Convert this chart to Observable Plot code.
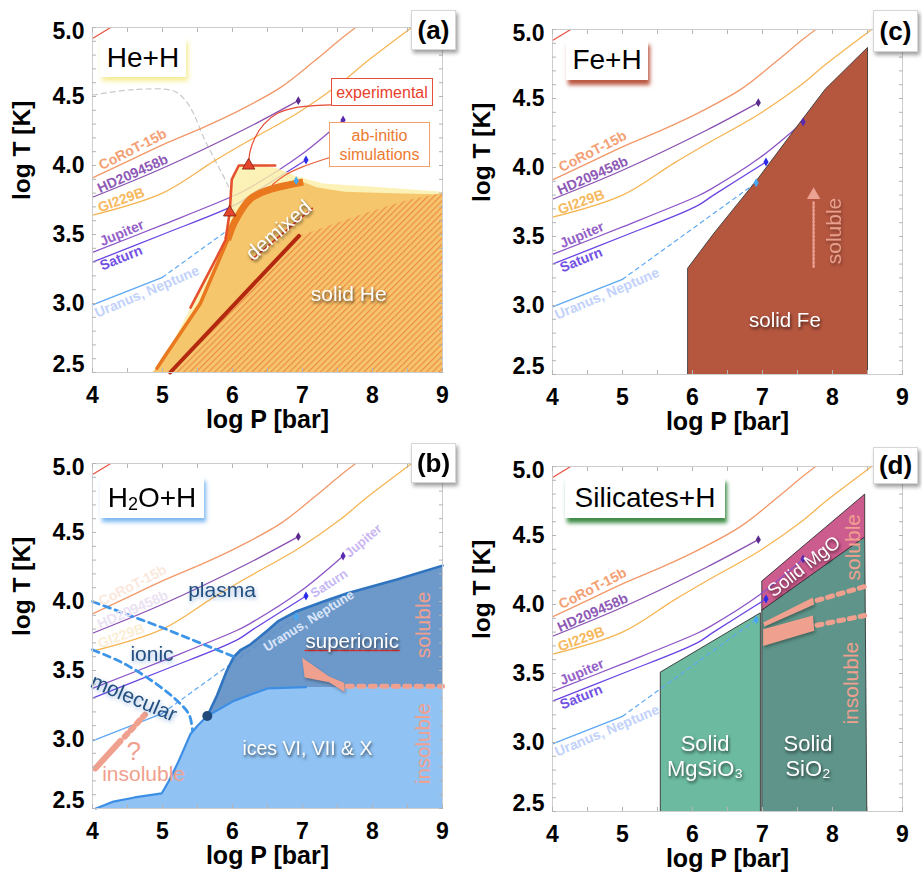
<!DOCTYPE html>
<html>
<head>
<meta charset="utf-8">
<script src="https://cdn.jsdelivr.net/npm/d3@7"></script>
<script src="https://cdn.jsdelivr.net/npm/@observablehq/plot@0.6"></script>
<style>
  html, body { margin: 0; padding: 0; background: #fff; }
  #fig { position: relative; width: 922px; height: 879px; overflow: hidden;
         font-family: "Liberation Sans", Arial, Helvetica, sans-serif; }
  .panel { position: absolute; }
  .panel svg { overflow: visible; }
  .tag { position: absolute; box-sizing: border-box; background: #fff; border: 1px solid #d6d6d6;
         box-shadow: 2px 3px 4px rgba(0,0,0,0.38); font-weight: bold; font-size: 26px;
         display: flex; align-items: center; justify-content: center; color: #000; }
  .title { position: absolute; box-sizing: border-box; background: #fff; font-size: 28px;
           display: flex; align-items: center; justify-content: center; color: #000; }
  .title sub { font-size: 18px; vertical-align: -3px; line-height: 0; }
  .note { position: absolute; box-sizing: border-box; background: #fff; font-size: 16px;
          text-align: center; line-height: 19px; display: flex; align-items: center; justify-content: center; }
</style>
</head>
<body>
<div id="fig">
  <svg width="0" height="0" style="position:absolute">
    <defs>
      <pattern id="solidHeHatch" patternUnits="userSpaceOnUse" width="4.4" height="4.4" patternTransform="rotate(45)">
        <rect width="4.4" height="4.4" fill="#f5c46c"></rect>
        <line x1="0.6" y1="0" x2="0.6" y2="4.4" stroke="#ee8a40" stroke-width="1.1"></line>
      </pattern>
    </defs>
  </svg>
</div>
<script>
// ---------- axes ----------
const pTicks = [4, 5, 6, 7, 8, 9];
const tTicks = [2.5, 3.0, 3.5, 4.0, 4.5, 5.0];
const pMinor = [4, 4.5, 5, 5.5, 6, 6.5, 7, 7.5, 8, 8.5, 9];
const tMinor = d3.range(25, 51).map(d => d / 10);

// ---------- planetary profiles, [log P, log T] ----------
const hotProfile = [[4.0, 4.92], [4.26, 5.0]];
const corot15b = [[4.0, 3.91], [4.5, 4.03], [5.0, 4.15], [5.6, 4.28], [6.1, 4.40], [6.7, 4.57], [7.2, 4.77], [7.53, 4.91], [7.76, 5.0]];
const hd209458b = [[4.0, 3.77], [5.0, 3.98], [6.2, 4.27], [6.94, 4.47]];
const gi229b = [[4.0, 3.64], [5.0, 3.80], [5.73, 4.03], [6.2, 4.17], [6.96, 4.39], [7.53, 4.59], [7.91, 4.75], [8.56, 5.0]];
const jupiter = [[4.0, 3.37], [5.0, 3.57], [6.06, 3.79], [6.25, 3.84], [6.96, 4.07], [7.58, 4.33]];
const saturn = [[4.0, 3.30], [5.0, 3.50], [6.06, 3.72], [6.3, 3.80], [7.05, 4.04]];
const uranusOuter = [[4.0, 2.99], [5.0, 3.19]];
const uranusDeep = [[5.0, 3.19], [6.91, 3.89]];
const profileEnds = [[6.94, 4.47], [7.58, 4.33], [7.05, 4.04], [6.91, 3.89]];
const profileNames = ["CoRoT-15b", "HD209458b", "GI229B", "Jupiter", "Saturn", "Uranus, Neptune"];
const profileNameAt = [[4.575, 4.116], [4.575, 3.94], [4.41, 3.75], [4.42, 3.51], [4.41, 3.33], [4.78, 3.085]];

// ---------- (a) He + H ----------
const heDemixOuter = [[5.05, 2.62], [5.40, 2.97], [5.78, 3.34], [5.90, 3.46], [5.96, 3.66], [5.99, 3.90], [6.09, 4.0], [6.4, 4.0], [6.64, 3.98], [6.92, 3.92], [7.30, 3.87], [8.16, 3.84], [9.0, 3.81], [9.0, 2.5]];
const heDemixed = [[4.85, 2.5], [5.01, 2.58], [5.54, 3.0], [5.93, 3.46], [6.04, 3.60], [6.26, 3.76], [6.5, 3.82], [7.01, 3.88], [7.21, 3.84], [7.6, 3.81], [8.16, 3.80], [9.0, 3.79], [9.0, 2.5]];
const heSolid = [[5.11, 2.5], [6.95, 3.49], [7.35, 3.56], [7.92, 3.66], [8.5, 3.75], [9.0, 3.80], [9.0, 2.5]];
const abInitioLow = [[4.92, 2.53], [5.01, 2.6], [5.54, 3.0], [5.93, 3.46]];
const abInitioHigh = [[5.93, 3.46], [6.04, 3.60], [6.26, 3.76], [6.5, 3.82], [7.01, 3.88]];
const experiment = [[5.40, 2.97], [5.78, 3.34], [5.90, 3.46], [5.96, 3.66], [5.99, 3.90], [6.09, 4.0], [6.61, 4.0]];
const experimentPoints = [[5.96, 3.66], [6.23, 4.0]];
const solidHeLine = [[5.11, 2.5], [6.95, 3.49]];
const heGrayCurve = [[4.0, 4.51], [4.59, 4.55], [5.16, 4.54], [5.33, 4.47], [5.45, 4.37], [5.59, 4.2], [5.76, 4.03], [5.97, 3.81], [6.05, 3.6]];
const experimentPointer = [[6.23, 4.0], [6.25, 4.10], [6.32, 4.2], [6.45, 4.3], [6.65, 4.38], [6.9, 4.42], [7.4, 4.44]];
const abInitioPointer = [[6.57, 3.86], [6.75, 3.93], [7.0, 3.99], [7.4, 4.06]];
const demixedUnderline = [[6.28, 3.32], [7.14, 3.69]];
const heLabels = [{P: 6.66, T: 3.53, s: "demixed", a: -41}, {P: 7.66, T: 3.07, s: "solid He", a: 0}];

// ---------- (c) Fe + H ----------
const feSolid = [[5.93, 2.5], [5.93, 3.27], [6.3, 3.52], [6.92, 3.91], [7.54, 4.33], [7.9, 4.57], [8.5, 4.87], [8.5, 2.5]];
const feArrow = [[7.73, 3.28], [7.73, 3.76]];
const feArrowHead = [[7.73, 3.80]];

// ---------- (b) H2O + H ----------
const iceLine = [[4.05, 2.5], [4.3, 2.55], [4.6, 2.58], [4.99, 2.61], [5.07, 2.68], [5.21, 2.82], [5.4, 3.04], [5.5, 3.1], [5.64, 3.17], [6.02, 3.28], [6.5, 3.37], [7.05, 3.38]];
const iceEdge = [[9.0, 3.38], [9.0, 2.5]];
const superionicTop = [[5.64, 3.17], [5.78, 3.32], [5.92, 3.5], [6.02, 3.6], [6.12, 3.65], [6.26, 3.69], [6.5, 3.79], [6.66, 3.86], [6.92, 3.93], [7.3, 4.0], [7.64, 4.06], [8.35, 4.16], [9.0, 4.26]];
const plasmaIonic = [[4.0, 4.0], [5.0, 3.81], [6.02, 3.6]];
const ionicMolecular = [[4.0, 3.65], [4.45, 3.55], [4.92, 3.40], [5.21, 3.28], [5.38, 3.18], [5.43, 3.06]];
const criticalPoint = [[5.64, 3.17]];
const waterWedge = [[6.995, 3.592], [7.38, 3.457], [7.6, 3.41], [7.6, 3.345], [7.38, 3.415], [7.03, 3.45]];
const waterLimit = [[7.64, 3.385], [9.0, 3.385]];
const waterLowSolid = [[4.04, 2.79], [4.4, 2.99]];
const waterLowDotted = [[4.46, 3.02], [4.75, 3.18]];
const superionicUnderline = [[7.04, 3.645], [8.38, 3.645]];
const waterPhases = [{P: 5.85, T: 4.08, s: "plasma", a: 0}, {P: 4.85, T: 3.62, s: "ionic", a: 0}, {P: 4.59, T: 3.30, s: "molecular", a: 23}];
const waterSolids = [{P: 7.71, T: 3.71, s: "superionic", a: 0, f: 20.5}, {P: 7.07, T: 2.93, s: "ices VI, VII & X", a: 0, f: 19.5}];
const waterSolubility = [{P: 8.73, T: 3.83, s: "soluble", a: -90, f: 21}, {P: 8.73, T: 2.97, s: "insoluble", a: -90, f: 20.5}, {P: 4.59, T: 2.91, s: "?", a: 0, f: 26}, {P: 4.73, T: 2.75, s: "insoluble", a: 0, f: 21}];
const waterPlanetNames = [{P: 7.87, T: 4.44, s: "Jupiter", a: -40}, {P: 7.38, T: 4.13, s: "Saturn", a: -33}, {P: 7.09, T: 3.86, s: "Uranus, Neptune", a: -32}];

// ---------- (d) Silicates + H ----------
const mgsio3Solid = [[5.54, 2.5], [5.54, 3.51], [6.97, 3.94], [6.97, 2.5]];
const sio2Solid = [[6.99, 2.5], [6.99, 3.96], [8.46, 4.49], [8.49, 2.5]];
const mgoSolid = [[6.99, 3.96], [6.99, 4.17], [8.46, 4.80], [8.46, 4.49]];
const silicaWedgeUpper = [[7.01, 3.87], [7.72, 4.05], [7.74, 4.0], [7.03, 3.84]];
const silicaWedgeLower = [[7.01, 3.82], [7.72, 3.92], [7.74, 3.81], [7.01, 3.70]];
const silicaLimitUpper = [[7.78, 4.03], [8.46, 4.13]];
const silicaLimitLower = [[7.78, 3.85], [8.46, 3.92]];
const silicateSolids = [{P: 6.18, T: 2.99, s: "Solid", a: 0}, {P: 6.18, T: 2.81, s: "MgSiO₃", a: 0}, {P: 7.65, T: 2.99, s: "Solid", a: 0}, {P: 7.65, T: 2.81, s: "SiO₂", a: 0}];
const mgoLabel = [{P: 7.59, T: 4.275, s: "Solid MgO", a: -38}];
const silicateSolubility = [{P: 8.29, T: 4.415, s: "soluble", a: -90}, {P: 8.27, T: 3.43, s: "insoluble", a: -90}];

// ---------- drawing helpers ----------
const FONT = '"Liberation Sans", Arial, Helvetica, sans-serif';
const SALMON = "#f0a08e";
const px = d => d[0], ty = d => d[1];
const line = (data, o = {}) => Plot.line(data, {x: px, y: ty, ...o});
const shape = (data, o = {}) => Plot.line([...data, data[0]], {x: px, y: ty, ...o});
const words = (items, o = {}) => Plot.text(items, {x: "P", y: "T", text: "s", rotate: "a", fontFamily: FONT, ...o});

const nameColors = ["#f3a074", "#8e5ab6", "#f6b95e", "#9461c8", "#7150e4", "#c2d2fb"];
const fadedNameColors = ["#fbe8dc", "#ebe2f3", "#fbeed6"];
const nameAngles = [-27, -24, -20, -23, -22, -23];

function profileLines() {
  const curve = "catmull-rom";
  return [
    line(hotProfile, {stroke: "#e9503e", strokeWidth: 1.2}),
    line(corot15b, {stroke: "#f29868", strokeWidth: 1.3, curve}),
    line(hd209458b, {stroke: "#8a50b2", strokeWidth: 1.3, curve}),
    line(gi229b, {stroke: "#f6b552", strokeWidth: 1.3, curve}),
    line(jupiter, {stroke: "#8d55c6", strokeWidth: 1.3, curve}),
    line(saturn, {stroke: "#6a45e2", strokeWidth: 1.3, curve}),
    line(uranusOuter, {stroke: "#5ea8f4", strokeWidth: 1.3}),
    line(uranusDeep, {stroke: "#5ea8f4", strokeWidth: 1.2, strokeDasharray: "4,4"})
  ];
}
function profileEndMarks() {
  return Plot.dot(profileEnds, {x: px, y: ty, symbol: "diamond", r: 2.7,
    fill: ["#5b2a8e", "#5a2ab0", "#2b2be8", "#45a8f2"], stroke: "none"});
}
function profileNameMarks(indices, colors) {
  const items = indices.map((i, k) => ({P: profileNameAt[i][0], T: profileNameAt[i][1], s: profileNames[i], a: nameAngles[i], c: colors[k]}));
  return words(items, {fill: "c", fontSize: 14, fontWeight: "bold"});
}

function frameMarks() {
  const tickStyle = {tickSize: -4, stroke: "#b4b4b4", fill: "none", label: null};
  const labelStyle = {tickSize: 0, fontSize: 23, fontWeight: "bold", fontFamily: FONT, fill: "#000", label: null};
  const fmt = d3.format(".1f");
  return [
    Plot.frame({stroke: "#cdcdcd", strokeWidth: 1}),
    Plot.axisX({anchor: "bottom", ticks: pMinor, ...tickStyle}),
    Plot.axisX({anchor: "top", ticks: pMinor, ...tickStyle}),
    Plot.axisY({anchor: "left", ticks: tMinor, ...tickStyle}),
    Plot.axisY({anchor: "right", ticks: tMinor, ...tickStyle}),
    Plot.axisX({anchor: "bottom", ticks: pTicks, tickPadding: 23, lineAnchor: "middle", tickFormat: d3.format("d"), ...labelStyle}),
    Plot.axisY({anchor: "left", ticks: tTicks.slice(1, 5), tickPadding: 8, tickFormat: fmt, ...labelStyle}),
    Plot.axisY({anchor: "left", ticks: tTicks.slice(5), tickPadding: 8, tickFormat: fmt, dy: 4, ...labelStyle}),
    Plot.axisY({anchor: "left", ticks: tTicks.slice(0, 1), tickPadding: 8, tickFormat: fmt, dy: -8, ...labelStyle}),
    Plot.text(["log T [K]"], {frameAnchor: "left", dx: -70, rotate: -90, fontSize: 24.5, fontWeight: "bold", fontFamily: FONT, fill: "#000"}),
    Plot.text(["log P [bar]"], {frameAnchor: "bottom", dy: 55, fontSize: 25, fontWeight: "bold", fontFamily: FONT, fill: "#000"})
  ];
}

// soft shadows behind selected marks, keyed by the mark's aria-description
const SHADES = {
  "shade-white": "drop-shadow(1px 2px 1.5px rgba(0,0,0,0.6))",
  "shade-blue": "drop-shadow(1px 2px 2px rgba(60,120,200,0.5))",
  "shade-soft": "drop-shadow(1px 2px 1.5px rgba(0,0,0,0.3))"
};

const fig = document.getElementById("fig");
function panel(left, top, marks) {
  const svg = Plot.plot({
    width: 460, height: 440,
    marginLeft: 92, marginRight: 18, marginTop: 27, marginBottom: 68,
    x: {domain: [4, 9], axis: null, label: null},
    y: {domain: [2.5, 5.0], axis: null, label: null},
    style: {fontFamily: FONT, background: "transparent", overflow: "visible", color: "#000"},
    marks: [...marks, ...frameMarks()]
  });
  for (const [name, filter] of Object.entries(SHADES)) {
    svg.querySelectorAll(`g[aria-description="${name}"]`).forEach(g => g.style.filter = filter);
  }
  const wrap = document.createElement("div");
  wrap.className = "panel";
  wrap.style.left = left + "px";
  wrap.style.top = top + "px";
  wrap.appendChild(svg);
  fig.appendChild(wrap);
}

// (a) He + H
panel(0, 0, [
  line(heGrayCurve, {stroke: "#c9c9c9", strokeWidth: 1.2, strokeDasharray: "5,4", curve: "catmull-rom"}),
  ...profileLines(),
  shape(heDemixOuter, {fill: "#fbeea6", fillOpacity: 0.82, stroke: "none"}),
  shape(heDemixed, {fill: "#f6c66c", stroke: "none"}),
  shape(heSolid, {fill: "url(#solidHeHatch)", stroke: "none"}),
  line(abInitioLow, {stroke: "#e9781e", strokeWidth: 3.5}),
  line(abInitioHigh, {stroke: "#e9781e", strokeWidth: 7, curve: "catmull-rom", strokeLinecap: "butt"}),
  line(solidHeLine, {stroke: "#b3280f", strokeWidth: 4}),
  line(experiment, {stroke: "#e5502f", strokeWidth: 2.6}),
  line(experimentPointer, {stroke: "#e44a34", strokeWidth: 1.2, curve: "catmull-rom"}),
  line(abInitioPointer, {stroke: "#e8603a", strokeWidth: 1.2, curve: "catmull-rom"}),
  Plot.dot(experimentPoints, {x: px, y: ty, symbol: "triangle", r: 4.6, fill: "#e5452c", stroke: "#7a1a0c", strokeWidth: 0.8}),
  profileEndMarks(),
  profileNameMarks([0, 1, 2, 3, 4, 5], nameColors),
  line(demixedUnderline, {stroke: "#e0302a", strokeWidth: 1.6, strokeDasharray: "1.5,1.5"}),
  words(heLabels, {fill: "#fff", fontSize: 21, ariaDescription: "shade-white"})
]);

// (c) Fe + H
panel(460, 2, [
  ...profileLines(),
  shape(feSolid, {fill: "#b5563f", stroke: "#3b3b3b", strokeWidth: 0.9}),
  profileEndMarks(),
  profileNameMarks([0, 1, 2, 3, 4, 5], nameColors),
  line(feArrow, {stroke: "#eba292", strokeWidth: 2.4, strokeDasharray: "1.5,2.2"}),
  Plot.dot(feArrowHead, {x: px, y: ty, symbol: "triangle", r: 5, fill: "#eba292"}),
  words([{P: 7.32, T: 2.89, s: "solid Fe", a: 0}], {fill: "#fff", fontSize: 20.5, ariaDescription: "shade-white"}),
  words([{P: 8.03, T: 3.54, s: "soluble", a: -90}], {fill: "#e99f8d", fontSize: 21, ariaDescription: "shade-soft"})
]);

// (b) H2O + H
panel(0, 436, [
  ...profileLines(),
  shape([...iceLine, ...iceEdge], {fill: "#90c3f4", stroke: "none"}),
  shape([...superionicTop, [9.0, 3.38], ...iceLine.filter(d => d[0] >= 5.64).reverse()], {fill: "#5d8ec4", fillOpacity: 0.9, stroke: "none"}),
  line(iceLine, {stroke: "#3d8fe6", strokeWidth: 2.2}),
  line(superionicTop, {stroke: "#2f74c0", strokeWidth: 2.6}),
  line(plasmaIonic, {stroke: "#3d95ea", strokeWidth: 2.8, strokeDasharray: "7,5"}),
  line(ionicMolecular, {stroke: "#3d95ea", strokeWidth: 2.8, strokeDasharray: "7,5", curve: "catmull-rom"}),
  Plot.dot(criticalPoint, {x: px, y: ty, r: 5, fill: "#1f4a7a"}),
  shape(waterWedge, {fill: SALMON, stroke: "none", ariaDescription: "shade-soft"}),
  line(waterLimit, {stroke: SALMON, strokeWidth: 5, strokeDasharray: "5,6.5"}),
  line(waterLowSolid, {stroke: SALMON, strokeWidth: 6}),
  line(waterLowDotted, {stroke: SALMON, strokeWidth: 6, strokeDasharray: "4,5"}),
  profileEndMarks(),
  profileNameMarks([0, 1, 2], fadedNameColors),
  words(waterPlanetNames, {fill: ["#c9b6f1", "#c6b7f4", "#dbe6fa"], fontSize: 13, fontWeight: "bold"}),
  words(waterPhases, {fill: "#24507f", fontSize: 21, ariaDescription: "shade-blue"}),
  line(superionicUnderline, {stroke: "#e0302a", strokeWidth: 1.6, strokeDasharray: "1.5,1.5"}),
  words(waterSolids, {fill: "#fff", fontSize: "f", ariaDescription: "shade-white"}),
  words(waterSolubility, {fill: SALMON, fontSize: "f"})
]);

// (d) Silicates + H
panel(460, 439, [
  shape(mgsio3Solid, {fill: "#6cbaa0", stroke: "#333", strokeWidth: 0.9}),
  shape(sio2Solid, {fill: "#5e9489", stroke: "#333", strokeWidth: 0.9}),
  shape(mgoSolid, {fill: "#cc5b8e", stroke: "#333", strokeWidth: 0.9}),
  ...profileLines(),
  profileEndMarks(),
  profileNameMarks([0, 1, 2, 3, 4, 5], nameColors),
  shape(silicaWedgeUpper, {fill: SALMON, stroke: "none", ariaDescription: "shade-soft"}),
  shape(silicaWedgeLower, {fill: SALMON, stroke: "none", ariaDescription: "shade-soft"}),
  line(silicaLimitUpper, {stroke: SALMON, strokeWidth: 5, strokeDasharray: "5,6"}),
  line(silicaLimitLower, {stroke: SALMON, strokeWidth: 5, strokeDasharray: "5,6"}),
  words(silicateSolids, {fill: "#fff", fontSize: 22, ariaDescription: "shade-white"}),
  words(mgoLabel, {fill: "#fff", fontSize: 18.5, ariaDescription: "shade-white"}),
  words(silicateSolubility, {fill: SALMON, fontSize: 21})
]);

// ---------- panel tags, titles and notes ----------
function box(cls, html, left, top, w, h, extra = {}) {
  const el = document.createElement("div");
  el.className = cls;
  el.innerHTML = `<span>${html}</span>`;
  Object.assign(el.style, {left: left + "px", top: top + "px", width: w + "px", height: h + "px"}, extra);
  fig.appendChild(el);
}
box("title", "He+H", 100, 38, 86, 39, {boxShadow: "2px 4px 5px #f6ec92"});
box("title", "Fe+H", 566, 40, 82, 40, {boxShadow: "2px 5px 4px #bb5a44"});
box("title", "H<sub>2</sub>O+H", 100, 477, 104, 41, {boxShadow: "2px 4px 4px #7cb9f0"});
box("title", "Silicates+H", 565, 477, 160, 41, {boxShadow: "2px 5px 4px #3f8d48"});
box("tag", "(a)", 411, 10, 45, 40);
box("tag", "(c)", 873, 10, 45, 42);
box("tag", "(b)", 411, 443, 45, 40);
box("tag", "(d)", 873, 447, 45, 37);
box("note", "experimental", 331, 78, 102, 28, {border: "1px solid #e8503a", color: "#e8402a"});
box("note", "ab-initio<br>simulations", 329, 122, 101, 45, {border: "1px solid #f2a06e", color: "#ec7a30"});
</script>
</body>
</html>
